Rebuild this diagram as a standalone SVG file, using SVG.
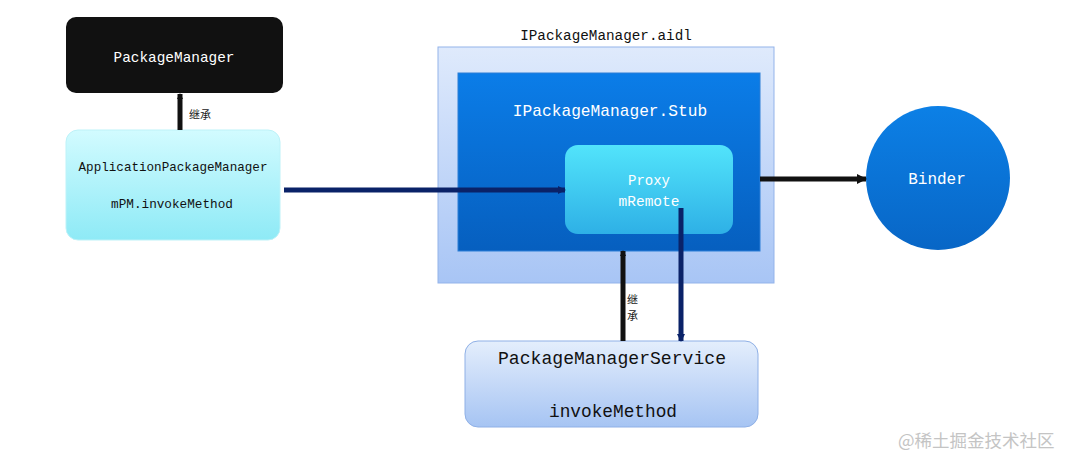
<svg xmlns="http://www.w3.org/2000/svg" width="1074" height="467" viewBox="0 0 1074 467">
<defs>
<linearGradient id="gApm" x1="0" y1="0" x2="0" y2="1"><stop offset="0" stop-color="#d2fbff"/><stop offset="1" stop-color="#8eeaf6"/></linearGradient>
<linearGradient id="gAidl" x1="0" y1="0" x2="0" y2="1"><stop offset="0" stop-color="#dfeafc"/><stop offset="1" stop-color="#a8c5f5"/></linearGradient>
<linearGradient id="gStub" x1="0" y1="0" x2="0" y2="1"><stop offset="0" stop-color="#0b7de8"/><stop offset="1" stop-color="#065fbf"/></linearGradient>
<linearGradient id="gProxy" x1="0" y1="0" x2="0" y2="1"><stop offset="0" stop-color="#52e4fb"/><stop offset="1" stop-color="#2eb0e6"/></linearGradient>
<linearGradient id="gPms" x1="0" y1="0" x2="0" y2="1"><stop offset="0" stop-color="#e4eefc"/><stop offset="1" stop-color="#a6c4f3"/></linearGradient>
<linearGradient id="gBinder" x1="0" y1="0" x2="0" y2="1"><stop offset="0" stop-color="#0c80e6"/><stop offset="1" stop-color="#0866c6"/></linearGradient>
<marker id="aBlack" markerWidth="6" markerHeight="6" refX="5" refY="3" orient="auto" markerUnits="userSpaceOnUse" viewBox="0 0 6 6"><path d="M0,0 L6,3 L0,6 Z" fill="#111"/></marker>
<marker id="aBlackL" markerWidth="10" markerHeight="10" refX="9" refY="5" orient="auto" markerUnits="userSpaceOnUse" viewBox="0 0 10 10"><path d="M0,0 L10,5 L0,10 Z" fill="#111"/></marker>
<marker id="aNavy" markerWidth="8" markerHeight="8" refX="7" refY="4" orient="auto" markerUnits="userSpaceOnUse" viewBox="0 0 8 8"><path d="M0,0 L8,4 L0,8 Z" fill="#0a2268"/></marker>
</defs>
<style>
.mono{font-family:"Liberation Mono","Noto Sans CJK SC",monospace;text-anchor:middle}
.cjk{font-family:"Noto Sans CJK SC",sans-serif;font-size:11px;fill:#222}
.w{fill:#ffffff}
.k{fill:#111111}
</style>
<rect width="1074" height="467" fill="#ffffff"/>
<g id="aidl">
<rect x="438" y="47" width="336" height="236" fill="url(#gAidl)" stroke="#93b3ea" stroke-width="1"/>
<text class="mono k" x="606" y="40" font-size="14.3">IPackageManager.aidl</text>
</g>
<g id="stub">
<rect x="458" y="73" width="302" height="178" fill="url(#gStub)" stroke="#2d7fd6" stroke-width="1"/>
<text class="mono w" x="610" y="116" font-size="16.2">IPackageManager.Stub</text>
</g>
<g id="proxy">
<rect x="565" y="145" width="168" height="89" rx="13" fill="url(#gProxy)"/>
<text class="mono w" x="649" y="185" font-size="14">Proxy</text>
<text class="mono w" x="649" y="206" font-size="14.5">mRemote</text>
</g>
<g id="packageManager">
<rect x="66" y="17" width="217" height="76" rx="10" fill="#111111"/>
<text class="mono w" x="174" y="62" font-size="14.4">PackageManager</text>
</g>
<g id="applicationPackageManager">
<rect x="66" y="130" width="214" height="110" rx="12" fill="url(#gApm)" stroke="#bdf2f8" stroke-width="1"/>
<text class="mono k" x="173" y="171" font-size="12.6">ApplicationPackageManager</text>
<text class="mono k" x="172" y="208" font-size="12.7">mPM.invokeMethod</text>
</g>
<g id="binder">
<circle cx="938" cy="178" r="72" fill="url(#gBinder)"/>
<text class="mono w" x="937" y="184" font-size="16">Binder</text>
</g>
<g id="packageManagerService">
<rect x="465" y="341" width="293" height="86" rx="13" fill="url(#gPms)" stroke="#8fb0e6" stroke-width="1"/>
<text class="mono k" x="612" y="364" font-size="18.1">PackageManagerService</text>
<text class="mono k" x="613" y="417" font-size="17.8">invokeMethod</text>
</g>
<g id="connectors">
<line x1="180" y1="130" x2="180" y2="94" stroke="#111" stroke-width="5" marker-end="url(#aBlack)"/>
<text class="cjk" x="189" y="119">继承</text>
<line x1="284" y1="190" x2="565" y2="190" stroke="#0a2268" stroke-width="5" marker-end="url(#aNavy)"/>
<line x1="760" y1="179" x2="866" y2="179" stroke="#111" stroke-width="5" marker-end="url(#aBlackL)"/>
<line x1="623" y1="341" x2="623" y2="251" stroke="#111" stroke-width="5" marker-end="url(#aBlack)"/>
<text class="cjk" x="627" y="304">继</text>
<text class="cjk" x="627" y="320">承</text>
<line x1="681" y1="208" x2="681" y2="341" stroke="#0a2268" stroke-width="5" marker-end="url(#aNavy)"/>
</g>
<text x="898" y="447" font-family="Noto Sans CJK SC, sans-serif" font-size="17.5" fill="#c4c4c4">@稀土掘金技术社区</text>
</svg>
